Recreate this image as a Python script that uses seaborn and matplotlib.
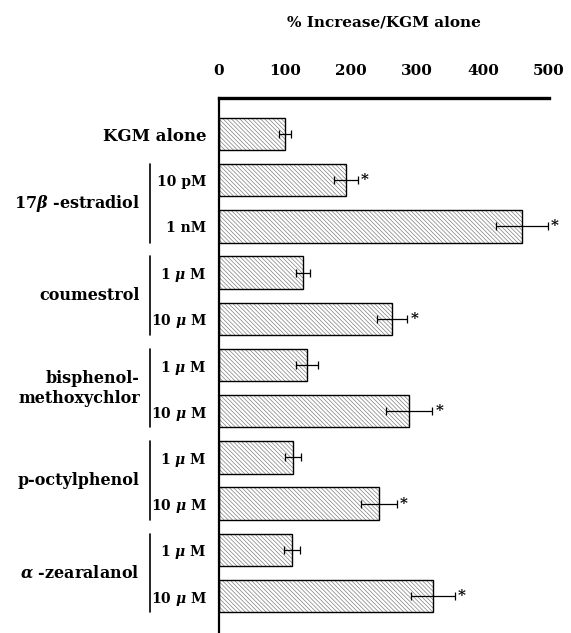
import numpy as np
import pandas as pd
import matplotlib
matplotlib.use("Agg")
import matplotlib.pyplot as plt
import matplotlib.transforms as mtransforms
from matplotlib.patches import Rectangle
import seaborn as sns

# data
rows = ["KGM alone", "E2 10 pM", "E2 1 nM", "cou 1 uM", "cou 10 uM",
        "bis 1 uM", "bis 10 uM", "oct 1 uM", "oct 10 uM", "zea 1 uM", "zea 10 uM"]
tick_labels = ["KGM alone", "10 pM", "1 nM", r"1 $\mu$ M", r"10 $\mu$ M",
               r"1 $\mu$ M", r"10 $\mu$ M", r"1 $\mu$ M", r"10 $\mu$ M",
               r"1 $\mu$ M", r"10 $\mu$ M"]
values = [100, 192, 459, 127, 262, 133, 288, 112, 242, 111, 324]
errors = [9, 18, 39, 11, 23, 17, 35, 12, 27, 12, 33]
significant = [False, True, True, False, True, False, True, False, True, False, True]
groups = ["17$\\beta$ -estradiol", "coumestrol", "bisphenol-\nmethoxychlor",
          "p-octylphenol", "$\\alpha$ -zearalanol"]
group_rows = [(1, 2), (3, 4), (5, 6), (7, 8), (9, 10)]

df = pd.DataFrame({"row": rows, "value": values})

sns.set_style("white")
plt.rcParams["font.family"] = ["DejaVu Serif"]
plt.rcParams["font.weight"] = "bold"
plt.rcParams["mathtext.fontset"] = "dejavuserif"
plt.rcParams["text.color"] = "black"
plt.rcParams["xtick.color"] = "black"
plt.rcParams["ytick.color"] = "black"
plt.rcParams["axes.labelcolor"] = "black"
plt.rcParams["hatch.linewidth"] = 0.5

fig = plt.figure(figsize=(5.71, 6.33), dpi=100)
ax = fig.add_axes([219 / 571, 0.0, 330 / 571, 1 - 98 / 633])

# hatched fill in grey, outline added on top in black
sns.barplot(data=df, x="value", y="row", orient="h", color="white",
            edgecolor="0.5", linewidth=0, width=0.7, hatch="\\\\\\\\\\\\\\\\",
            ax=ax)
for p in list(ax.patches):
    ax.add_patch(Rectangle(p.get_xy(), p.get_width(), p.get_height(),
                           fill=False, edgecolor="black", linewidth=1.0))

ax.errorbar(values, np.arange(len(rows)), xerr=errors, fmt="none",
            ecolor="black", elinewidth=0.9, capsize=3, capthick=0.9)
for i, (v, e, s) in enumerate(zip(values, errors, significant)):
    if s:
        ax.text(v + e + 5, i, "*", ha="left", va="center", fontsize=11)

ax.set_xlim(0, 500)
ax.set_ylim(10.8, -0.78)
ax.xaxis.tick_top()
ax.xaxis.set_label_position("top")
ax.set_xticks([0, 100, 200, 300, 400, 500])
ax.tick_params(axis="x", length=0, pad=14.5, labelsize=11)
ax.tick_params(axis="y", length=0, pad=9, labelsize=10)
ax.set_yticks(np.arange(len(rows)))
ax.set_yticklabels(tick_labels)
ax.get_yticklabels()[0].set_fontsize(12)
ax.set_xlabel("% Increase/KGM alone", fontsize=11, fontweight="bold", labelpad=27)
ax.set_ylabel("")

for side in ["right", "bottom"]:
    ax.spines[side].set_visible(False)
ax.spines["top"].set_linewidth(2.4)
ax.spines["left"].set_linewidth(1.6)
ax.spines["top"].set_color("black")
ax.spines["left"].set_color("black")

trans = mtransforms.blended_transform_factory(ax.transAxes, ax.transData)
for name, (a, b) in zip(groups, group_rows):
    ax.plot([-0.21, -0.21], [a - 0.35, b + 0.35], color="black", lw=1.2,
            transform=trans, clip_on=False)
    ax.text(-0.24, (a + b) / 2, name, ha="right", va="center", fontsize=11.5,
            transform=trans, linespacing=1.25)

fig.savefig("out.png", dpi=100)
